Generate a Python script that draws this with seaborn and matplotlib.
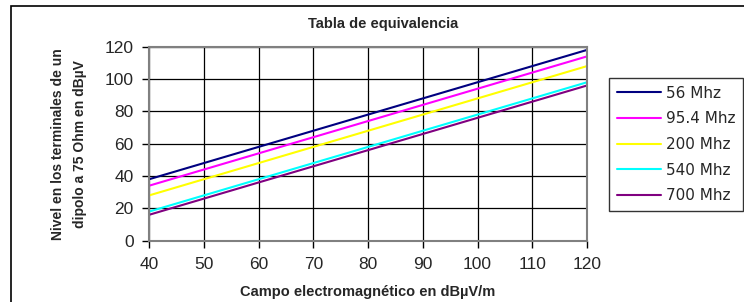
import pandas as pd
import numpy as np
import matplotlib
matplotlib.use("Agg")
import matplotlib.pyplot as plt
import seaborn as sns
from matplotlib.patches import Rectangle

# campo electromagnetico (dBuV/m)
campo = [40, 50, 60, 70, 80, 90, 100, 110, 120]

# nivel en bornes del dipolo (dBuV)
nivel_56 = [38, 48, 58, 68, 78, 88, 98, 108, 118]
nivel_95 = [34, 44, 54, 64, 74, 84, 94, 104, 114]
nivel_200 = [28, 38, 48, 58, 68, 78, 88, 98, 108]
nivel_540 = [18, 28, 38, 48, 58, 68, 78, 88, 98]
nivel_700 = [16, 26, 36, 46, 56, 66, 76, 86, 96]

series = ["56 Mhz", "95.4 Mhz", "200 Mhz", "540 Mhz", "700 Mhz"]
colores = ["#000080", "#FF00FF", "#FFFF00", "#00FFFF", "#800080"]

frames = []
for nombre, vals in zip(series, [nivel_56, nivel_95, nivel_200, nivel_540, nivel_700]):
    frames.append(pd.DataFrame({"campo": campo, "nivel": vals, "serie": nombre}))
df = pd.concat(frames, ignore_index=True)

sns.set_style("white")
plt.rcParams['font.family'] = ['Liberation Sans', 'DejaVu Sans']

W, H = 744, 302
fig = plt.figure(figsize=(W / 100, H / 100), dpi=100)

# marco exterior del grafico
fig.patches.append(Rectangle((11 / W, -0.1), 1.0, 1 - 6 / H + 0.1, transform=fig.transFigure,
                             fill=False, edgecolor="black", linewidth=1.2, zorder=0))

x0, x1 = 149, 587
y0, y1 = 46.7, 240.7
ax = fig.add_axes([x0 / W, 1 - y1 / H, (x1 - x0) / W, (y1 - y0) / H])

sns.lineplot(data=df, x="campo", y="nivel", hue="serie", hue_order=series,
             palette=colores, linewidth=1.5, ax=ax, legend=False)

ax.set_xlim(40, 120)
ax.set_ylim(0, 120)
ax.set_xticks(range(40, 121, 10))
ax.set_yticks(range(0, 121, 20))
ax.grid(True, color="black", linewidth=0.9)
ax.set_axisbelow(True)
for s in ax.spines.values():
    s.set_color("#808080")
    s.set_linewidth(1.5)
ax.tick_params(axis="both", direction="out", length=5, width=1, color="black",
               labelsize=12.5, left=True, bottom=True)
ax.tick_params(axis="x", pad=7)
ax.tick_params(axis="y", pad=6)
ax.set_xlabel("")
ax.set_ylabel("")

fig.text(383 / W, 1 - 24 / H, "Tabla de equivalencia", ha="center", va="center",
         fontsize=10.5, fontweight="bold")
fig.text(368 / W, 1 - 292 / H, "Campo electromagnético en dBµV/m", ha="center", va="center",
         fontsize=10.5, fontweight="bold")
fig.text(69 / W, 1 - 144 / H, "Nivel en los terminales de un\ndipolo a 75 Ohm en dBµV",
         ha="center", va="center", rotation=90, fontsize=10, fontweight="bold",
         linespacing=1.7)

handles = [plt.Line2D([], [], color=c, linewidth=1.5) for c in colores]
leg = fig.legend(handles, series, loc="upper left", bbox_to_anchor=(609 / W, 1 - 78 / H),
                 prop={"family": "DejaVu Sans", "size": 11}, frameon=True, fancybox=False,
                 edgecolor="black", handlelength=2.9, handletextpad=0.3,
                 labelspacing=0.7, borderpad=0.5, borderaxespad=0)
leg.get_frame().set_linewidth(1)

fig.savefig("out.png", dpi=100)
